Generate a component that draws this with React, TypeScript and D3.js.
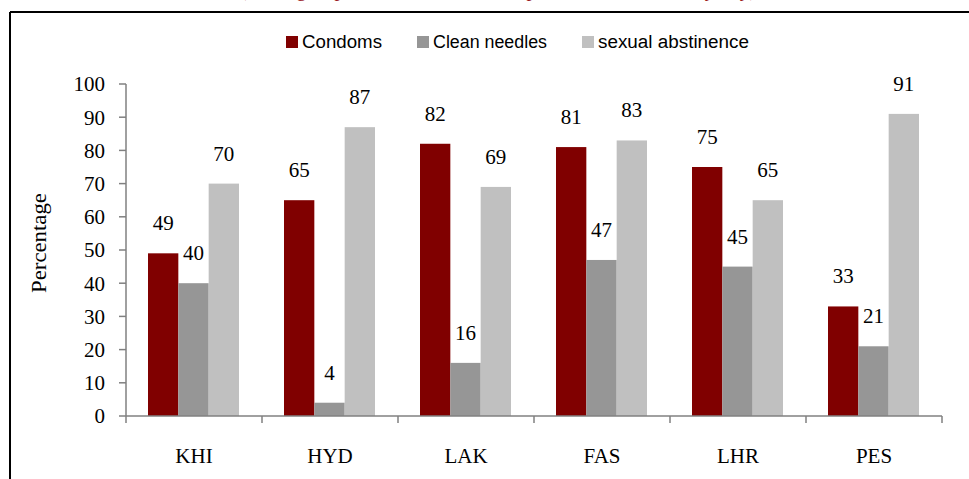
import React, { useEffect } from 'react'
import * as d3 from 'd3'

const cities = ['KHI', 'HYD', 'LAK', 'FAS', 'LHR', 'PES']
const seriesNames = ['Condoms', 'Clean needles', 'sexual abstinence']
const condoms = [49, 65, 82, 81, 75, 33]
const cleanNeedles = [40, 4, 16, 47, 45, 21]
const abstinence = [70, 87, 69, 83, 65, 91]
const colors = ['#800000', '#969696', '#c0c0c0']
const yTicks = [0, 10, 20, 30, 40, 50, 60, 70, 80, 90, 100]

const W = 969
const H = 479
const serif = '"Liberation Serif", "DejaVu Serif", serif'
const narrow = '"Liberation Sans Narrow", "Arial Narrow", "Liberation Sans", sans-serif'

export default function App() {
  useEffect(() => {
    document.body.style.margin = '0'
  }, [])

  const values = [condoms, cleanNeedles, abstinence]
  const y = d3.scaleLinear().domain([0, 100]).range([416, 84])
  const x = d3.scaleBand<string>().domain(cities).range([126, 942])
  const xs = d3.scaleBand<string>().domain(seriesNames).range([22, 113])

  // legend layout: square x, label width (text is condensed in the original)
  const legendX = [286, 417, 582]
  const legendW = [80, 114, 151]

  return (
    <svg width={W} height={H} style={{ display: 'block', background: '#fff' }}>
      {/* title of the page above, only its lowest part shows */}
      <text x={498} y={-4} textAnchor="middle" fill="#9b1c1c" fontFamily={serif} fontSize={20}>
        (Among respondents aware of HIV prevention methods, by city)
      </text>
      <line x1={10} y1={12} x2={W} y2={12} stroke="#000" strokeWidth={2} />
      <line x1={10} y1={12} x2={10} y2={H} stroke="#000" strokeWidth={2} />

      {/* legend */}
      {seriesNames.map((s, i) => (
        <g key={s}>
          <rect x={legendX[i]} y={36} width={12} height={12} fill={colors[i]} />
          <text
            x={legendX[i] + 16}
            y={48}
            fontFamily={narrow}
            fontSize={18}
            textLength={legendW[i]}
            lengthAdjust="spacingAndGlyphs"
            fill="#000"
          >
            {s}
          </text>
        </g>
      ))}

      {/* bars */}
      {cities.map((c, ci) =>
        seriesNames.map((s, si) => {
          const v = values[si][ci]
          const bx = (x(c) ?? 0) + (xs(s) ?? 0)
          const bw = xs.bandwidth()
          return (
            <g key={c + s}>
              <rect x={bx} y={y(v)} width={bw} height={y(0) - y(v)} fill={colors[si]} />
              <text
                x={bx + bw / 2}
                y={y(v) - 23}
                textAnchor="middle"
                fontFamily={serif}
                fontSize={21}
                fill="#000"
              >
                {v}
              </text>
            </g>
          )
        })
      )}

      {/* y axis */}
      <line x1={126} y1={y(100)} x2={126} y2={y(0)} stroke="#808080" strokeWidth={1.5} />
      {yTicks.map((t) => (
        <g key={t}>
          <line x1={119} y1={y(t)} x2={126} y2={y(t)} stroke="#808080" strokeWidth={1.5} />
          <text
            x={105}
            y={y(t)}
            dy="0.35em"
            textAnchor="end"
            fontFamily={serif}
            fontSize={21}
            fill="#000"
          >
            {t}
          </text>
        </g>
      ))}
      <text
        transform={`translate(46,243) rotate(-90)`}
        textAnchor="middle"
        fontFamily={serif}
        fontSize={21}
        textLength={100}
        lengthAdjust="spacingAndGlyphs"
        fill="#000"
      >
        Percentage
      </text>

      {/* x axis */}
      <line x1={126} y1={y(0)} x2={942} y2={y(0)} stroke="#808080" strokeWidth={1.5} />
      {[...cities.map((c) => x(c) ?? 0), 942].map((tx, i) => (
        <line key={i} x1={tx} y1={y(0)} x2={tx} y2={y(0) + 7} stroke="#808080" strokeWidth={1.5} />
      ))}
      {cities.map((c) => (
        <text
          key={c}
          x={(x(c) ?? 0) + x.bandwidth() / 2}
          y={463}
          textAnchor="middle"
          fontFamily={serif}
          fontSize={21}
          fill="#000"
        >
          {c}
        </text>
      ))}
    </svg>
  )
}
